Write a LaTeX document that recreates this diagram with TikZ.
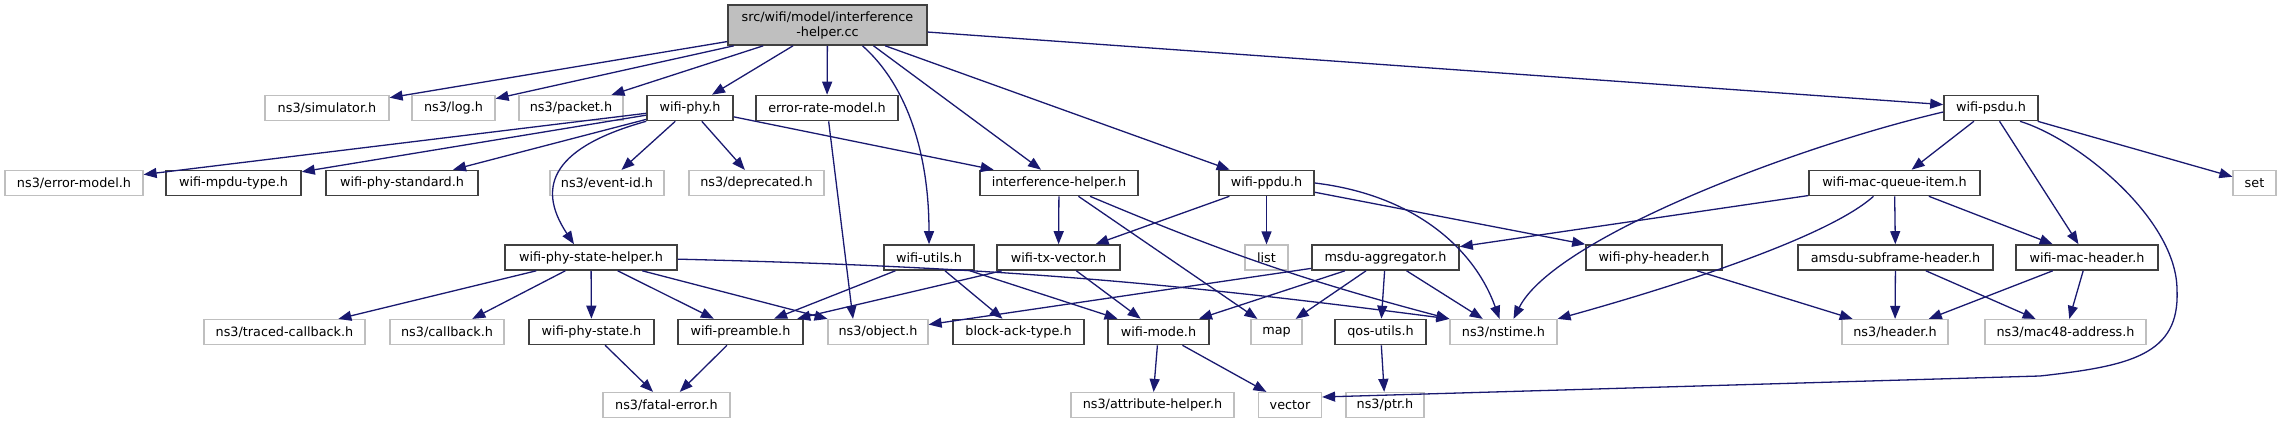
\documentclass[tikz,border=0pt]{standalone}
\usepackage{fontspec}
\setmainfont{DejaVu Sans}
\usetikzlibrary{arrows.meta,positioning}
\definecolor{edgeblue}{RGB}{25,25,112}
\definecolor{docgray}{RGB}{64,64,64}
\definecolor{extgray}{RGB}{191,191,191}
\tikzset{
  hdr/.style={rectangle, draw=docgray, line width=1.6pt, fill=white, inner sep=0pt,
              minimum height=25pt, align=center, font=\fontsize{12.8}{15}\selectfont},
  ext/.style={hdr, draw=extgray, line width=1.2pt},
  root/.style={hdr, fill=extgray, minimum height=40pt},
  dep/.style={-{Triangle[length=13pt,width=10pt]}, draw=edgeblue, line width=1.3pt},
}

\begin{document}
\begin{tikzpicture}[x=1pt, y=-1pt]
\useasboundingbox (0,0) rectangle (2281,425);

% ============================ source file ===============================
\node[root, minimum width=199pt] (top) at (827.5,25)
  {src/wifi/model/interference\\-helper.cc};

% ============================ row 1 =====================================
\node[ext, minimum width=124pt] (sim)  at (327,108)   {ns3/simulator.h};
\node[ext, minimum width=83pt]  (log)  at (453.5,108) {ns3/log.h};
\node[ext, minimum width=104pt] (pkt)  at (571,108)   {ns3/packet.h};
\node[hdr, minimum width=86pt]  (phy)  at (690,108)   {wifi-phy.h};
\node[hdr, minimum width=142pt] (erm)  at (827,108)   {error-rate-model.h};
\node[hdr, minimum width=94pt]  (psdu) at (1991,108)  {wifi-psdu.h};

% ============================ row 2 =====================================
\node[ext, minimum width=138pt] (errm) at (74,183)     {ns3/error-model.h};
\node[hdr, minimum width=135pt] (mpdu) at (233.5,183)  {wifi-mpdu-type.h};
\node[hdr, minimum width=152pt] (std)  at (402,183)    {wifi-phy-standard.h};
\node[ext, minimum width=114pt] (evid) at (607,183)    {ns3/event-id.h};
\node[ext, minimum width=135pt] (depr) at (756.5,183)  {ns3/deprecated.h};
\node[hdr, minimum width=158pt] (ih)   at (1059,183)   {interference-helper.h};
\node[hdr, minimum width=95pt]  (ppdu) at (1266.5,183) {wifi-ppdu.h};
\node[hdr, minimum width=171pt] (mqi)  at (1894.5,183) {wifi-mac-queue-item.h};
\node[ext, minimum width=43pt]  (set)  at (2254.5,183) {set};

% ============================ row 3 =====================================
\node[hdr, minimum width=172pt] (psh)    at (591,257.5)    {wifi-phy-state-helper.h};
\node[hdr, minimum width=90pt]  (utils)  at (929,257.5)    {wifi-utils.h};
\node[hdr, minimum width=123pt] (txv)    at (1058.5,257.5) {wifi-tx-vector.h};
\node[ext, minimum width=43pt]  (list)   at (1266.5,257.5) {list};
\node[hdr, minimum width=147pt] (msdu)   at (1385.5,257.5) {msdu-aggregator.h};
\node[hdr, minimum width=136pt] (phyhdr) at (1654,257.5)   {wifi-phy-header.h};
\node[hdr, minimum width=195pt] (amsdu)  at (1895.5,257.5) {amsdu-subframe-header.h};
\node[hdr, minimum width=142pt] (machdr) at (2087,257.5)   {wifi-mac-header.h};

% ============================ row 4 =====================================
\node[ext, minimum width=161pt] (tcb)    at (284.5,332)  {ns3/traced-callback.h};
\node[ext, minimum width=114pt] (cb)     at (447,332)    {ns3/callback.h};
\node[hdr, minimum width=125pt] (pstate) at (591.5,332)  {wifi-phy-state.h};
\node[hdr, minimum width=125pt] (pre)    at (740.5,332)  {wifi-preamble.h};
\node[ext, minimum width=100pt] (obj)    at (878,332)    {ns3/object.h};
\node[hdr, minimum width=131pt] (bat)    at (1018.5,332) {block-ack-type.h};
\node[hdr, minimum width=101pt] (mode)   at (1158.5,332) {wifi-mode.h};
\node[ext, minimum width=51pt]  (map)    at (1276.5,332) {map};
\node[hdr, minimum width=91pt]  (qos)    at (1380.5,332) {qos-utils.h};
\node[ext, minimum width=107pt] (nst)    at (1503.5,332) {ns3/nstime.h};
\node[ext, minimum width=106pt] (hhdr)   at (1895,332)   {ns3/header.h};
\node[ext, minimum width=161pt] (mac48)  at (2065.5,332) {ns3/mac48-address.h};

% ============================ row 5 =====================================
\node[ext, minimum width=127pt] (fatal) at (666.5,405)  {ns3/fatal-error.h};
\node[ext, minimum width=163pt] (attr)  at (1152.5,405) {ns3/attribute-helper.h};
\node[ext, minimum width=63pt]  (vec)   at (1290,405)   {vector};
\node[ext, minimum width=78pt]  (ptr)   at (1385,405)   {ns3/ptr.h};

\coordinate (pvbend) at (2177,290);
\coordinate (pvlow)  at (2040,376);

% ============================ includes of the source ====================
\draw[dep] (top) -- (sim);
\draw[dep] (top) -- (log);
\draw[dep] (top) -- (pkt);
\draw[dep] (top) -- (phy);
\draw[dep] (top) -- (erm);
\draw[dep] ([xshift=35pt]top.south) .. controls +(45,40) and +(0,-90) .. (utils.north);
\draw[dep] ([xshift=46pt]top.south) -- (ih);
\draw[dep] (top) -- (ppdu);
\draw[dep] (top) -- (psdu);

% ============================ wifi-phy.h ================================
\draw[dep] (phy) -- (errm);
\draw[dep] (phy) -- (mpdu);
\draw[dep] (phy) -- (std);
\draw[dep] (phy) -- (evid);
\draw[dep] (phy) -- (depr);
\draw[dep] (phy.south west) .. controls +(-90,25) and +(-40,-60) .. ([xshift=-17pt]psh.north);
\draw[dep] (phy) -- (ih);
\draw[dep] (erm) -- ([xshift=-25pt]obj.north);

% ============================ second row ================================
\draw[dep] (ih) -- (txv);
\draw[dep] (ih) -- (map);
\draw[dep] (ih) to[bend right=4] (nst.north west);
\draw[dep] (ppdu) -- (txv);
\draw[dep] (ppdu) -- (list);
\draw[dep] (ppdu) -- (phyhdr);
\draw[dep] (ppdu.east) .. controls +(100,12) and +(-25,-70) .. ([xshift=-4pt]nst.north);
\draw[dep] ([yshift=-4pt]psdu.west) .. controls +(-150,35) and +(40,-80) .. ([xshift=10pt]nst.north);
\draw[dep] (psdu) -- (mqi);
\draw[dep] (psdu) -- (machdr);
\draw[dep] (psdu) -- (set);
\draw[dep] ([xshift=29pt]psdu.south) .. controls (2080,140) and (2177,220) .. (pvbend)
  .. controls (2180,355) and (2130,366) .. (pvlow) -- ([yshift=8pt]vec.east);
\draw[dep] (mqi) -- (msdu);
\draw[dep] ([xshift=-21pt]mqi.south) .. controls +(-50,45) and +(90,-25) .. (nst.north east);
\draw[dep] (mqi) -- (amsdu);
\draw[dep] (mqi) -- (machdr);

% ============================ third row =================================
\draw[dep] (psh) -- (tcb);
\draw[dep] (psh) -- (cb);
\draw[dep] (psh) -- (pstate);
\draw[dep] (psh) -- (pre);
\draw[dep] (psh) -- (obj);
\draw[dep] (psh) to[bend left=3] (nst.north west);
\draw[dep] (utils) -- (pre);
\draw[dep] (utils) -- (bat);
\draw[dep] (utils) -- (mode);
\draw[dep] (txv) -- (pre);
\draw[dep] (txv) -- (mode);
\draw[dep] (msdu) -- (obj);
\draw[dep] (msdu) -- (mode);
\draw[dep] (msdu) -- (map);
\draw[dep] (msdu) -- (qos);
\draw[dep] (msdu) -- (nst);
\draw[dep] (phyhdr) -- (hhdr);
\draw[dep] (amsdu) -- (hhdr);
\draw[dep] (amsdu) -- (mac48);
\draw[dep] (machdr) -- (hhdr);
\draw[dep] (machdr) -- (mac48);

% ============================ fourth row ================================
\draw[dep] (pstate) -- (fatal);
\draw[dep] (pre) -- (fatal);
\draw[dep] (mode) -- (attr);
\draw[dep] (mode) -- (vec);
\draw[dep] (qos) -- (ptr);

\end{tikzpicture}
\end{document}
